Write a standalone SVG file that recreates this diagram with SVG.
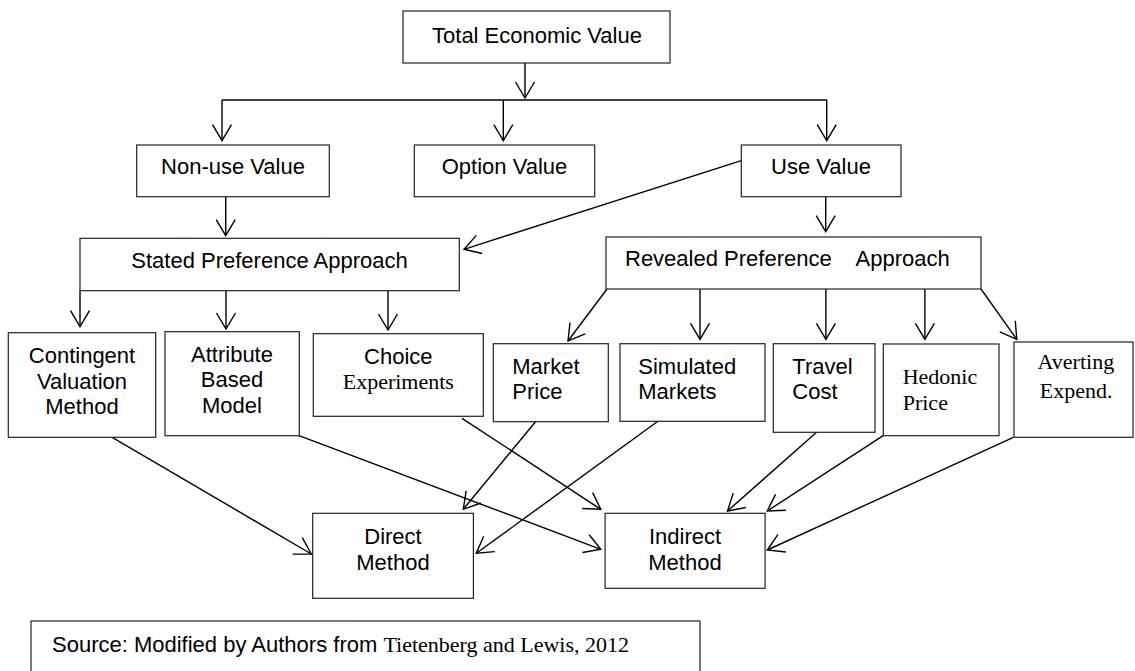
<svg xmlns="http://www.w3.org/2000/svg" width="1135" height="671" viewBox="0 0 1135 671">
  <style>
    .box { fill: #fff; stroke: #222; stroke-width: 1.2; }
    .lbl { font-family: "Liberation Sans", Arial, sans-serif; font-size: 22px; fill: #000; }
    .ser { font-family: "Liberation Serif", "Times New Roman", serif; font-size: 22px; fill: #000; }
    .mid { text-anchor: middle; }
    .con { fill: none; stroke: #000; stroke-width: 1.4; }
    .arw { marker-end: url(#arr); }
  </style>
  <defs>
    <marker id="arr" markerUnits="userSpaceOnUse" markerWidth="20" markerHeight="22" viewBox="-18 -11 20 22" refX="0" refY="0" orient="auto" overflow="visible">
      <path d="M-16,-9.5 L0,0 L-16,9.5" fill="none" stroke="#000" stroke-width="1.4"/>
    </marker>
  </defs>
  <rect width="1135" height="671" fill="#fff"/>

  <!-- connectors -->
  <g id="connectors" class="con">
    <path class="arw" d="M525,58 V98"/>
    <path d="M222,100 H827"/>
    <path class="arw" d="M222,100 V140.7"/>
    <path class="arw" d="M503.3,100 V140.7"/>
    <path class="arw" d="M826.7,100 V140.7"/>
    <path class="arw" d="M225.7,197 V235.7"/>
    <path class="arw" d="M825.7,193 V231.7"/>
    <path class="arw" d="M741.3,160.7 L464,249.3"/>
    <path class="arw" d="M80,290.7 V326.7"/>
    <path class="arw" d="M226,290.7 V329"/>
    <path class="arw" d="M388,290.7 V330"/>
    <path class="arw" d="M607,289 L568,341"/>
    <path class="arw" d="M700,289 V339.3"/>
    <path class="arw" d="M825.9,289 V339.3"/>
    <path class="arw" d="M924.9,289 V339.3"/>
    <path class="arw" d="M981,289 L1016.8,339.3"/>
    <path class="arw" d="M112.2,437.3 L311.3,554"/>
    <path class="arw" d="M299,435.7 L600.8,549.3"/>
    <path class="arw" d="M462,418.3 L600.8,509.3"/>
    <path class="arw" d="M535.5,421.7 L463.3,509.3"/>
    <path class="arw" d="M662,418.3 L476.3,553.3"/>
    <path class="arw" d="M816.6,432.3 L727.5,511"/>
    <path class="arw" d="M883.2,435.7 L767.3,511"/>
    <path class="arw" d="M1013.4,437.3 L767.3,550"/>
  </g>

  <g id="total-economic-value">
    <rect class="box" x="403" y="11" width="267" height="52"/>
    <text class="lbl mid" x="537" y="42.5">Total Economic Value</text>
  </g>
  <g id="non-use-value">
    <rect class="box" x="136.7" y="145" width="192.6" height="51.7"/>
    <text class="lbl mid" x="233" y="174">Non-use Value</text>
  </g>
  <g id="option-value">
    <rect class="box" x="414.3" y="145" width="180.4" height="51.7"/>
    <text class="lbl mid" x="504.5" y="174">Option Value</text>
  </g>
  <g id="use-value">
    <rect class="box" x="741.3" y="145" width="159.7" height="51.7"/>
    <text class="lbl mid" x="821" y="174">Use Value</text>
  </g>
  <g id="stated-preference">
    <rect class="box" x="80" y="238.3" width="379.3" height="52.4"/>
    <text class="lbl mid" x="269.5" y="268">Stated Preference Approach</text>
  </g>
  <g id="revealed-preference">
    <rect class="box" x="606" y="237" width="375" height="52"/>
    <text class="lbl" x="625" y="266">Revealed Preference<tspan x="855.5">Approach</tspan></text>
  </g>
  <g id="contingent-valuation">
    <rect class="box" x="8.3" y="332.7" width="147.4" height="104.6"/>
    <text class="lbl mid" x="82" y="363.3">Contingent<tspan x="82" y="388.8">Valuation</tspan><tspan x="82" y="414.3">Method</tspan></text>
  </g>
  <g id="attribute-based">
    <rect class="box" x="165" y="331.7" width="134.3" height="104"/>
    <text class="lbl mid" x="232" y="361.7">Attribute<tspan x="232" y="387.3">Based</tspan><tspan x="232" y="413.3">Model</tspan></text>
  </g>
  <g id="choice-experiments">
    <rect class="box" x="313.3" y="333.7" width="170" height="82.6"/>
    <text class="lbl mid" x="398.3" y="364.3">Choice</text>
    <text class="ser mid" x="398.3" y="389.3">Experiments</text>
  </g>
  <g id="market-price">
    <rect class="box" x="493.3" y="343.7" width="115" height="78"/>
    <text class="lbl" x="512.3" y="374">Market<tspan x="512.3" y="399.3">Price</tspan></text>
  </g>
  <g id="simulated-markets">
    <rect class="box" x="620" y="343.7" width="145" height="77.6"/>
    <text class="lbl" x="638.3" y="374">Simulated<tspan x="638.3" y="399.3">Markets</tspan></text>
  </g>
  <g id="travel-cost">
    <rect class="box" x="773.3" y="343.7" width="101.7" height="88.6"/>
    <text class="lbl" x="792.3" y="374">Travel<tspan x="792.3" y="399.3">Cost</tspan></text>
  </g>
  <g id="hedonic-price">
    <rect class="box" x="883.3" y="344" width="115.7" height="91.7"/>
    <text class="ser" x="902.7" y="384">Hedonic<tspan x="902.7" y="410">Price</tspan></text>
  </g>
  <g id="averting-expenditure">
    <rect class="box" x="1014" y="342" width="119" height="95.3"/>
    <text class="ser" x="1037.6" y="369.3">Averting<tspan x="1039.7" y="398.3">Expend.</tspan></text>
  </g>
  <g id="direct-method">
    <rect class="box" x="312.7" y="513.3" width="160.7" height="85"/>
    <text class="lbl mid" x="393" y="544">Direct<tspan x="393" y="570">Method</tspan></text>
  </g>
  <g id="indirect-method">
    <rect class="box" x="605.1" y="513.3" width="160" height="75"/>
    <text class="lbl mid" x="685" y="544">Indirect<tspan x="685" y="570">Method</tspan></text>
  </g>
  <g id="source-note">
    <rect class="box" x="31" y="621" width="669" height="60"/>
    <text class="lbl" x="52" y="651.7">Source: Modified by Authors from <tspan class="ser" font-size="23">Tietenberg and Lewis, 2012</tspan></text>
  </g>
</svg>
